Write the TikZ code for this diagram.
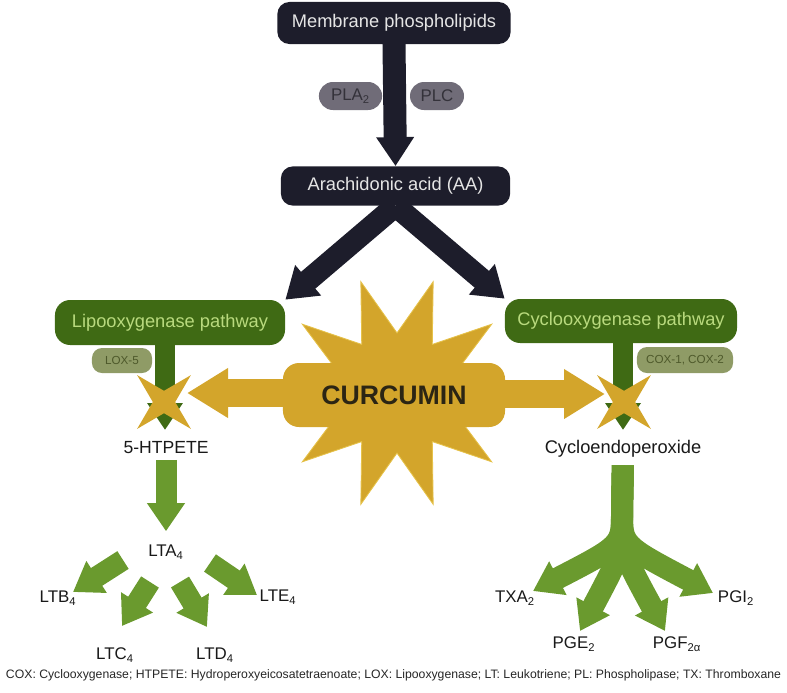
\documentclass[tikz,border=0pt]{standalone}
\usepackage{fontspec}
\setmainfont{Liberation Sans}
\usetikzlibrary{arrows.meta,shapes.geometric}

\definecolor{navy}{HTML}{1D1D2B}
\definecolor{pillgrey}{HTML}{706C78}
\definecolor{pilltext}{HTML}{34323A}
\definecolor{darkgreen}{HTML}{3F6A14}
\definecolor{lightgreen}{HTML}{B9DA7E}
\definecolor{leafgreen}{HTML}{6A9A2E}
\definecolor{olive}{HTML}{8F9B66}
\definecolor{olivetext}{HTML}{4E592B}
\definecolor{gold}{HTML}{D3A52B}
\definecolor{goldedge}{HTML}{E6C24A}
\definecolor{curtext}{HTML}{2B2514}

\tikzset{
  blackbox/.style={fill=navy, text=white!90!black, rounded corners=0.3cm, inner sep=0,
    font=\fontsize{13}{15}\selectfont},
  greypill/.style={fill=pillgrey, text=pilltext, rounded corners=0.35cm, inner sep=0,
    minimum height=0.7cm, font=\fontsize{12}{14}\selectfont},
  greenbox/.style={fill=darkgreen, text=lightgreen, rounded corners=0.38cm, inner sep=0,
    font=\fontsize{13}{15}\selectfont},
  olivepill/.style={fill=olive, text=olivetext, rounded corners=0.25cm, inner sep=0,
    font=\fontsize{8.3}{10}\selectfont},
  xstar/.style={star, star points=4, star point ratio=3.4, shape border rotate=45,
    minimum size=1.9cm, inner sep=0, fill=gold},
  molecule/.style={text=black!90, inner sep=1pt, font=\fontsize{12.5}{14}\selectfont},
  navyarrow/.style={draw=navy, line width=0.575cm, -{Triangle[width=0.9cm,length=0.725cm]}},
  forkarrow/.style={draw=navy, line width=0.55cm, -{Triangle[width=0.95cm,length=0.75cm]}},
  stemarrow/.style={draw=darkgreen, line width=0.5cm, -{Triangle[width=0.85cm,length=0.675cm]}},
  goldarrow/.style={draw=gold, line width=0.7cm, -{Triangle[width=1.175cm,length=1.025cm]}},
  leafarrow/.style={draw=leafgreen, line width=0.525cm, -{Triangle[width=0.9cm,length=0.7cm]}},
}

\begin{document}
\begin{tikzpicture}[x=0.025cm,y=-0.025cm]
    \useasboundingbox (0,0) rectangle (787,692);

    % top of the cascade
    \node[blackbox, minimum width=5.83cm, minimum height=1.05cm] (mem) at (394,23) {Membrane phospholipids};
    \node[blackbox, minimum width=5.73cm, minimum height=0.98cm] (aa) at (395.5,186) {Arachidonic acid (AA)};
    \draw[navyarrow, shorten <=-2pt] (mem.south) -- (aa.north);
    \node[greypill, minimum width=1.58cm] (pla) at (350.5,96) {PLA\textsubscript{2}};
    \node[greypill, minimum width=1.35cm] (plc) at (437,96) {PLC};

    % the two pathways
    \node[greenbox, minimum width=5.75cm, minimum height=1.125cm] (lox) at (170,322.5) {Lipooxygenase pathway};
    \node[greenbox, minimum width=5.8cm, minimum height=1.1cm] (cox) at (621,321) {Cyclooxygenase pathway};
    \draw[forkarrow] (aa.south) -- (lox.north east);
    \draw[forkarrow] (aa.south) -- (cox.north west);
    \node[olivepill, minimum width=1.5cm, minimum height=0.625cm] (lox5) at (122,360.5) {LOX-5};
    \node[olivepill, minimum width=2.4cm, minimum height=0.65cm] (coxen) at (685,360) {COX-1, COX-2};

    % enzyme steps
    \coordinate (ltip) at (165,430);
    \coordinate (rtip) at (623,430);
    \draw[stemarrow, shorten <=-2pt] (lox.south -| ltip) -- (ltip);
    \draw[stemarrow, shorten <=-2pt] (cox.south -| rtip) -- (rtip);

    % curcumin blocks both
    \node[star, star points=10, star point ratio=1.95, shape border rotate=18, inner sep=0,
          minimum size=5.85cm, fill=gold, draw=goldedge, line width=0.6pt] (burst) at (397,393) {};
    \coordinate (gl) at (187,393);
    \coordinate (gr) at (605,394);
    \draw[goldarrow] (burst.center |- gl) -- (gl);
    \draw[goldarrow] (burst.center |- gr) -- (gr);
    \node[fill=gold, rounded corners=0.4cm, minimum width=5.55cm, minimum height=1.6cm, inner sep=0,
          text=curtext, font=\fontsize{19}{21}\selectfont\bfseries] (cur) at (394,395) {CURCUMIN};
    \node[xstar] (xl) at (164,402) {};
    \node[xstar] (xr) at (624,402) {};

    % leukotrienes
    \node[molecule] (htp) at (166,448) {5-HTPETE};
    \node[molecule, font=\fontsize{12}{14}\selectfont] (lta) at (166,552) {LTA\textsubscript{4}};
    \draw[leafarrow, shorten <=0.1cm, shorten >=0.3cm] (htp.south) -- (lta.north);
    \foreach \n/\lbl/\x/\y in {ltb/LTB/58/598, ltc/LTC/115/655, ltd/LTD/215/655, lte/LTE/278/597}
        \node[molecule, font=\fontsize{12}{14}\selectfont] (\n) at (\x,\y) {\lbl\textsubscript{4}};
    \coordinate (btail) at (123,560);  \coordinate (btip) at (73,592);
    \coordinate (ctail) at (150,582);  \coordinate (ctip) at (122,626);
    \coordinate (dtail) at (180,582);  \coordinate (dtip) at (207,627);
    \coordinate (etail) at (210,563);  \coordinate (etip) at (257,595);
    \foreach \k in {b,c,d,e}
        \draw[leafarrow] (\k tail) -- (\k tip);

    % prostanoids
    \node[molecule, font=\fontsize{13}{15}\selectfont] (endo) at (623,449) {Cycloendoperoxide};
    \node[molecule, font=\fontsize{12}{14}\selectfont] (txa) at (515,598) {TXA\textsubscript{2}};
    \node[molecule, font=\fontsize{12}{14}\selectfont] (pge) at (574,644) {PGE\textsubscript{2}};
    \node[molecule, font=\fontsize{12}{14}\selectfont] (pgf) at (677,644) {PGF\textsubscript{2α}};
    \node[molecule, font=\fontsize{12}{14}\selectfont] (pgi) at (736,598) {PGI\textsubscript{2}};
    \coordinate (fork) at (622,512);
    \coordinate (txtip) at (533,591);
    \coordinate (petip) at (580,631);
    \coordinate (pftip) at (665,631);
    \coordinate (pitip) at (713,593);
    \foreach \t/\c in {txtip/545, petip/552, pftip/552, pitip/545}
        \draw[leafarrow, line width=0.55cm, shorten <=0.15cm] (endo.south) -- (fork) .. controls (622,\c) .. (\t);

    % abbreviations
    \node[font=\fontsize{8.7}{10}\selectfont, text=black!85] (legend) at (393.5,675)
        {COX: Cyclooxygenase; HTPETE: Hydroperoxyeicosatetraenoate; LOX: Lipooxygenase; LT: Leukotriene; PL: Phospholipase; TX: Thromboxane};
\end{tikzpicture}
\end{document}
